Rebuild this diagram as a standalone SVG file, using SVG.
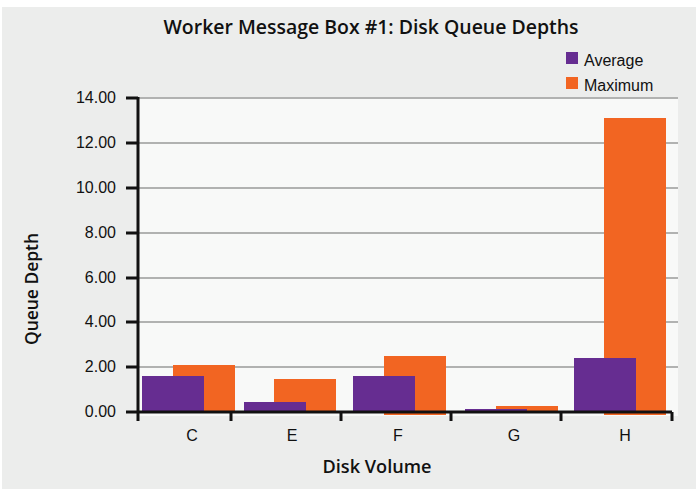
<svg xmlns="http://www.w3.org/2000/svg" width="699" height="489" viewBox="0 0 699 489">
  <style>
    .txt { font-family: "Liberation Sans", Arial, sans-serif; fill: #111; }
    .head { font-family: "Open Sans", "Liberation Sans", sans-serif; font-weight: 600; fill: #111; }
    .ylab { font-size: 16px; text-anchor: end; }
    .xlab { font-size: 16px; text-anchor: middle; }
    .grid { stroke: #9a9a9a; stroke-width: 1.5; }
    .axis { stroke: #111; stroke-width: 3; fill: none; }
    .avg { fill: #662D91; }
    .max { fill: #F26522; }
  </style>
  <!-- backgrounds -->
  <rect x="0" y="0" width="699" height="489" fill="#ffffff"/>
  <rect x="2" y="7" width="694" height="482" fill="#ECEDEC"/>
  <rect x="138" y="97" width="540" height="319" fill="#F8F9F8"/>

  <!-- title -->
  <text class="head" x="371" y="34" font-size="19" text-anchor="middle" textLength="415" lengthAdjust="spacingAndGlyphs">Worker Message Box #1: Disk Queue Depths</text>

  <!-- legend -->
  <g id="legend">
    <rect class="avg" x="566" y="52" width="12" height="12"/>
    <text class="txt" x="584" y="66" font-size="16">Average</text>
    <rect class="max" x="566" y="77" width="12" height="12"/>
    <text class="txt" x="584" y="91" font-size="16">Maximum</text>
  </g>

  <!-- gridlines -->
  <g id="grid">
    <line class="grid" x1="138" y1="98" x2="678" y2="98"/>
    <line class="grid" x1="138" y1="143" x2="678" y2="143"/>
    <line class="grid" x1="138" y1="188" x2="678" y2="188"/>
    <line class="grid" x1="138" y1="233" x2="678" y2="233"/>
    <line class="grid" x1="138" y1="278" x2="678" y2="278"/>
    <line class="grid" x1="138" y1="322" x2="678" y2="322"/>
    <line class="grid" x1="138" y1="367" x2="678" y2="367"/>
  </g>

  <!-- bars -->
  <g id="bar-C">
    <rect class="max" x="173" y="365" width="62" height="47"/>
    <rect class="avg" x="142" y="376" width="62" height="36"/>
  </g>
  <g id="bar-E">
    <rect class="max" x="274" y="379" width="62" height="33"/>
    <rect class="avg" x="244" y="402" width="62" height="10"/>
  </g>
  <g id="bar-F">
    <rect class="max" x="384" y="356" width="62" height="59"/>
    <rect class="avg" x="353" y="376" width="62" height="36"/>
  </g>
  <g id="bar-G">
    <rect class="max" x="496" y="406" width="62" height="6"/>
    <rect class="avg" x="465" y="409" width="62" height="3"/>
  </g>
  <g id="bar-H">
    <rect class="max" x="604" y="118" width="62" height="297"/>
    <rect class="avg" x="574" y="358" width="62" height="54"/>
  </g>

  <!-- axes -->
  <g id="axes">
    <path class="axis" d="M138,97 V413 M137,412 H672"/>
    <path class="axis" d="M126,98 H138 M126,143 H138 M126,188 H138 M126,233 H138 M126,278 H138 M126,322 H138 M126,367 H138 M126,412 H138"/>
    <path class="axis" d="M138,412 V421 M231,412 V421 M341,412 V421 M451,412 V421 M561,412 V421 M672,412 V421"/>
  </g>

  <!-- y tick labels -->
  <g id="ylabels">
    <text class="txt ylab" x="116" y="103">14.00</text>
    <text class="txt ylab" x="116" y="148">12.00</text>
    <text class="txt ylab" x="116" y="193">10.00</text>
    <text class="txt ylab" x="116" y="238">8.00</text>
    <text class="txt ylab" x="116" y="283">6.00</text>
    <text class="txt ylab" x="116" y="327">4.00</text>
    <text class="txt ylab" x="116" y="372">2.00</text>
    <text class="txt ylab" x="116" y="417">0.00</text>
  </g>

  <!-- x category labels -->
  <g id="xlabels">
    <text class="txt xlab" x="192" y="441">C</text>
    <text class="txt xlab" x="292" y="441">E</text>
    <text class="txt xlab" x="398" y="441">F</text>
    <text class="txt xlab" x="514" y="441">G</text>
    <text class="txt xlab" x="625" y="441">H</text>
  </g>

  <!-- axis titles -->
  <text class="head" x="377" y="473" font-size="18" text-anchor="middle" textLength="109" lengthAdjust="spacingAndGlyphs">Disk Volume</text>
  <text class="head" transform="translate(38,289) rotate(-90)" font-size="18" text-anchor="middle" textLength="112" lengthAdjust="spacingAndGlyphs">Queue Depth</text>
</svg>
